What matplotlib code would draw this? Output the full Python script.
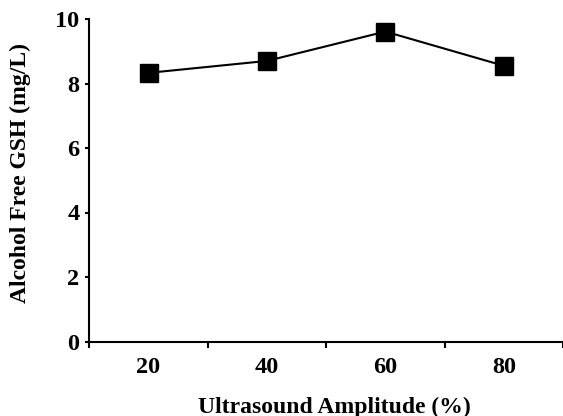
import matplotlib
matplotlib.use("Agg")
import matplotlib.pyplot as plt
from matplotlib.ticker import FixedLocator

amplitude = ["20", "40", "60", "80"]
gsh = [8.33, 8.70, 9.61, 8.55]

plt.rcParams['font.family'] = ['Liberation Serif', 'DejaVu Serif']
plt.rcParams['font.weight'] = 'bold'

fig = plt.figure(figsize=[5.63, 4.16], dpi=100)
ax = fig.add_axes([89.3 / 563, 1 - 341.5 / 416, 1 - 89.3 / 563, (341.5 - 19) / 416])

x = list(range(len(amplitude)))
ax.plot(x, gsh, color='black', lw=1.5, marker='s', ms=12.5,
        markerfacecolor='black', markeredgecolor='black', clip_on=False)

ax.set_xlim(-0.5, len(amplitude) - 0.5)
ax.set_ylim(0, 10)
ax.set_yticks([0, 2, 4, 6, 8, 10])
ax.set_xticks(x)
ax.set_xticklabels(amplitude)
ax.xaxis.set_minor_locator(FixedLocator([i - 0.5 for i in range(len(amplitude) + 1)]))

ax.tick_params(axis='x', which='major', length=0, pad=11, labelsize=17.5)
ax.tick_params(axis='x', which='minor', length=4, width=1.5, direction='out')
ax.tick_params(axis='y', which='major', length=3, width=1.5, direction='out', pad=4, labelsize=17.5)

for s in ['top', 'right']:
  ax.spines[s].set_visible(False)
for s in ['left', 'bottom']:
  ax.spines[s].set_linewidth(1.5)

ax.set_xlabel("Ultrasound Amplitude (%)", fontsize=17, fontweight='bold', va='top')
ax.xaxis.set_label_coords(0.5166, -0.170)
ax.set_ylabel("Alcohol Free GSH (mg/L)", fontsize=17, fontweight='bold', va='center')
ax.yaxis.set_label_coords(-0.146, 0.5225)

plt.savefig('out.png', dpi=100)
